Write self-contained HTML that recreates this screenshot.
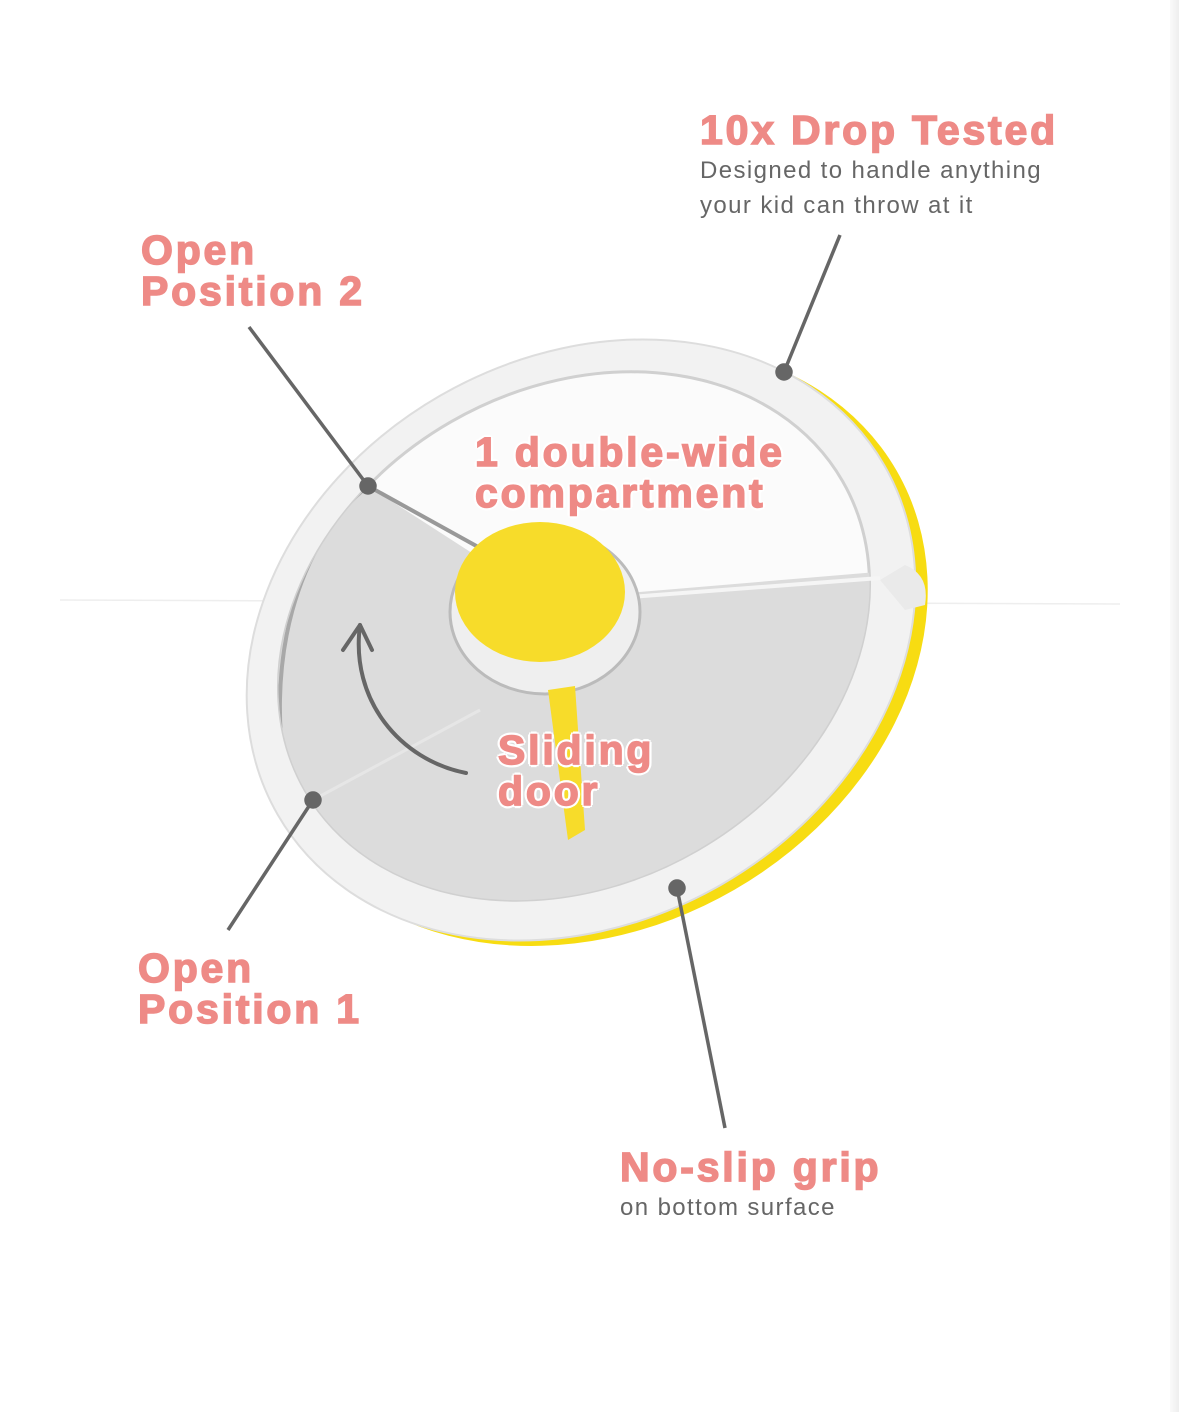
<!DOCTYPE html>
<html><head><style>
body{margin:0;width:1179px;height:1412px;background:#fff;position:relative;overflow:hidden;font-family:"Liberation Sans",sans-serif}
.t{position:absolute;color:#ee8a86;font-weight:900;font-size:41px;line-height:41px;letter-spacing:2.8px;-webkit-text-stroke:1.5px #ee8a86}
.s{position:absolute;color:#666;font-size:24px;line-height:35px;letter-spacing:1.4px}
.in{text-shadow:3px 0 #fff,-3px 0 #fff,0 3px #fff,0 -3px #fff,2px 2px #fff,-2px -2px #fff,2px -2px #fff,-2px 2px #fff}
</style></head><body>
<div style="position:absolute;right:0;top:0;width:9px;height:1412px;background:linear-gradient(90deg,#fafafa,#eee)"></div>
<svg width="1179" height="1412" style="position:absolute;left:0;top:0">
<defs><clipPath id="c"><ellipse cx="0" cy="0" rx="310" ry="247" transform="translate(574,636) rotate(-30)"/></clipPath></defs>
<line x1="60" y1="600" x2="1120" y2="604" stroke="#eee" stroke-width="1.5"/>
<g transform="translate(581,640) rotate(-30)">
<ellipse cx="8" cy="11" rx="350" ry="282" fill="#f7dc12"/>
<ellipse cx="0" cy="0" rx="350" ry="282" fill="#f2f2f2" stroke="#ddd" stroke-width="2"/>
</g>
<g transform="translate(574,636) rotate(-30)">
<ellipse cx="0" cy="0" rx="310" ry="247" fill="#fbfbfb" stroke="#d0d0d0" stroke-width="3"/>
</g>
<g clip-path="url(#c)">
<path d="M368,486 L545,600 L900,570 L900,1000 L150,1000 L150,400 Z" fill="#dcdcdc"/>
<path d="M368,486 C300,540 260,660 290,800" fill="none" stroke="#a8a8a8" stroke-width="4"/>
<line x1="313" y1="800" x2="480" y2="710" stroke="#e6e6e6" stroke-width="3"/>
</g>
<path d="M880,580 L905,565 Q930,575 925,605 L905,610 Z" fill="#eaeaea"/>
<line x1="590" y1="600" x2="880" y2="578" stroke="#f5f5f5" stroke-width="4"/>
<line x1="368" y1="486" x2="480" y2="548" stroke="#999" stroke-width="4"/>
<ellipse cx="545" cy="612" rx="95" ry="82" fill="#efefef" stroke="#bbb" stroke-width="3"/>
<ellipse cx="540" cy="592" rx="85" ry="70" fill="#f7dc2a"/>
<path d="M548,690 L575,686 L585,830 L568,840 Z" fill="#f7dc2a"/>
<path d="M466,773 C400,760 350,700 360,625" fill="none" stroke="#666" stroke-width="4" stroke-linecap="round"/>
<path d="M343,650 L360,625 L372,650" fill="none" stroke="#666" stroke-width="4" stroke-linecap="round" stroke-linejoin="round"/>
<g stroke="#666" stroke-width="3.5" fill="#666">
<line x1="840" y1="235" x2="784" y2="372"/><circle cx="784" cy="372" r="7"/>
<line x1="249" y1="327" x2="368" y2="486"/><circle cx="368" cy="486" r="7"/>
<line x1="228" y1="930" x2="313" y2="800"/><circle cx="313" cy="800" r="7"/>
<line x1="677" y1="888" x2="725" y2="1128"/><circle cx="677" cy="888" r="7"/>
</g>
</svg>
<div class="t" style="left:700px;top:110px">10x Drop Tested</div>
<div class="s" style="left:700px;top:153px">Designed to handle anything<br>your kid can throw at it</div>
<div class="t" style="left:141px;top:230px">Open<br>Position 2</div>
<div class="t in" style="left:475px;top:432px">1 double-wide<br>compartment</div>
<div class="t in" style="left:498px;top:730px">Sliding<br>door</div>
<div class="t" style="left:138px;top:948px">Open<br>Position 1</div>
<div class="t" style="left:620px;top:1147px">No-slip grip</div>
<div class="s" style="left:620px;top:1190px">on bottom surface</div>
</body></html>
